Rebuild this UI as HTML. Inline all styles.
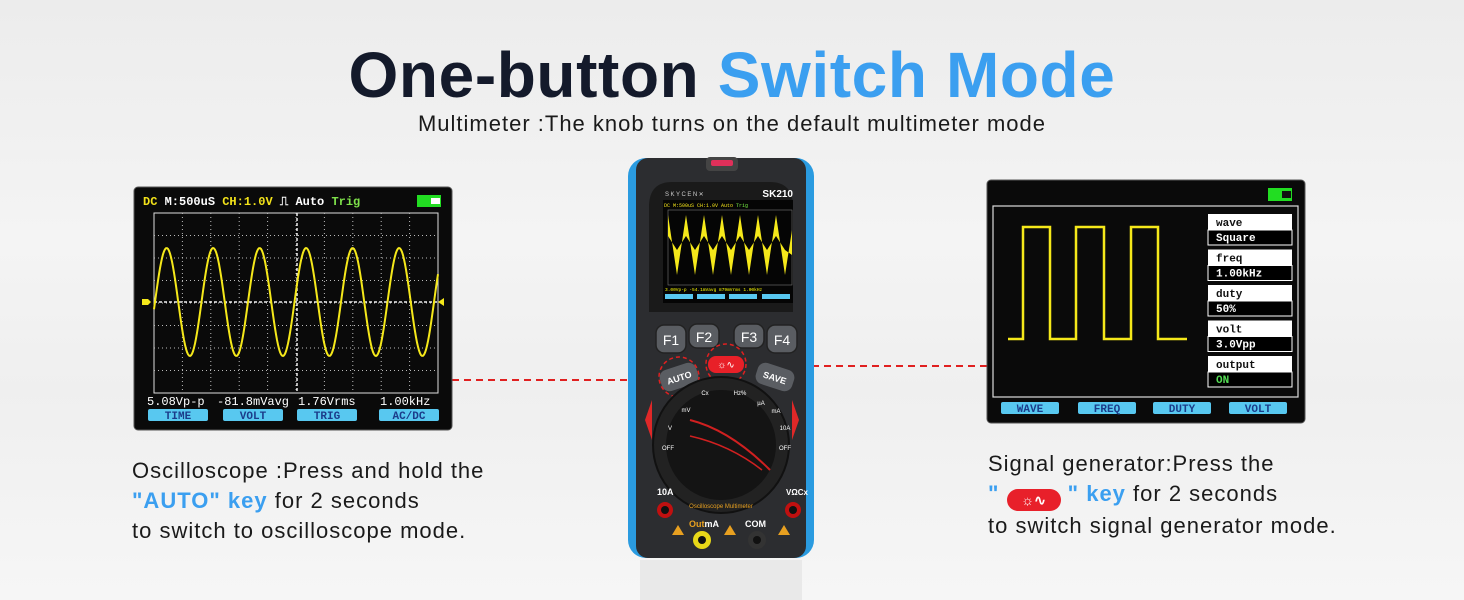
<!DOCTYPE html>
<html><head><meta charset="utf-8"><style>
body{margin:0;width:1464px;height:600px;overflow:hidden;background:linear-gradient(180deg,#ececec 0%,#f4f4f4 40%,#efefef 65%,#f6f6f6 100%);font-family:"Liberation Sans",sans-serif;position:relative}
.t{position:absolute;white-space:nowrap}
</style></head><body>
<div class="t" style="left:0;width:1464px;text-align:center;top:38px;font-size:64px;font-weight:bold;color:#141a2b;letter-spacing:0.6px">One-button <span style="color:#3b9ff0">Switch Mode</span></div>
<div class="t" style="left:0;width:1464px;text-align:center;top:111px;font-size:22px;color:#1a1a1a;letter-spacing:1px">Multimeter :The knob turns on the default multimeter mode</div>

<div class="t" style="left:132px;top:456px;font-size:22px;color:#1a1a1a;line-height:30px;letter-spacing:1px">Oscilloscope :Press and hold the<br><b style="color:#3b9ff0">"AUTO" key</b> for 2 seconds<br>to switch to oscilloscope mode.</div>
<div class="t" style="left:988px;top:449px;font-size:22px;color:#1a1a1a;line-height:30px;letter-spacing:1px">Signal generator:Press the<br><b style="color:#3b9ff0">" <span style="display:inline-block;width:54px;height:22px;background:#e8202a;border-radius:11px;vertical-align:-4px;color:#fff;font-size:14px;text-align:center;line-height:22px;letter-spacing:0">☼∿</span> " key</b> for 2 seconds<br>to switch signal generator mode.</div>

<svg width="1464" height="600" style="position:absolute;left:0;top:0" xmlns="http://www.w3.org/2000/svg">
<line x1="452" y1="380" x2="662" y2="380" stroke="#e02020" stroke-width="2" stroke-dasharray="7,5"/>
<line x1="752" y1="366" x2="987" y2="366" stroke="#e02020" stroke-width="2" stroke-dasharray="7,5"/>

<rect x="134" y="187" width="318" height="243" rx="4" fill="#0a0a0a" stroke="#555" stroke-width="1"/>
<g font-family="Liberation Mono,monospace" font-weight="bold" font-size="12">
<text x="143" y="205" fill="#f2e21a">DC <tspan fill="#fff">M:500uS</tspan> CH:1.0V <tspan fill="#fff">⎍  Auto</tspan> <tspan fill="#7ee04a">Trig</tspan></text>
</g>
<rect x="417" y="195" width="24" height="12" fill="#22dd22"/><rect x="431" y="198" width="9" height="6" fill="#fff"/>
<rect x="154" y="213" width="284" height="180" fill="none" stroke="#ddd" stroke-width="1"/>
<g id="lgrid" stroke="#bbb" stroke-width="1" stroke-dasharray="1,3"></g>
<line x1="297" y1="213" x2="297" y2="393" stroke="#eee" stroke-width="1.5" stroke-dasharray="3,2"/>
<line x1="154" y1="302" x2="438" y2="302" stroke="#eee" stroke-width="1.5" stroke-dasharray="3,2"/>
<path id="sine" fill="none" stroke="#f5e81a" stroke-width="2"/>
<path d="M142 299h6l3 3-3 3h-6z" fill="#f5e81a"/><path d="M438 302l6-4v8z" fill="#f5e81a"/>
<g font-family="Liberation Mono,monospace" font-size="12" fill="#fff">
<text x="147" y="405">5.08Vp-p</text><text x="217" y="405">-81.8mVavg</text><text x="298" y="405">1.76Vrms</text><text x="380" y="405">1.00kHz</text>
</g>
<g fill="#58c8f0"><rect x="148" y="409" width="60" height="12" rx="2"/><rect x="223" y="409" width="60" height="12" rx="2"/><rect x="297" y="409" width="60" height="12" rx="2"/><rect x="379" y="409" width="60" height="12" rx="2"/></g>
<g font-family="Liberation Mono,monospace" font-weight="bold" font-size="11" fill="#1b3c8a" text-anchor="middle">
<text x="178" y="419">TIME</text><text x="253" y="419">VOLT</text><text x="327" y="419">TRIG</text><text x="409" y="419">AC/DC</text></g>

<rect x="987" y="180" width="318" height="243" rx="4" fill="#0a0a0a" stroke="#555"/>
<rect x="1268" y="188" width="24" height="13" fill="#22dd22"/><rect x="1282" y="191" width="9" height="7" fill="#111"/>
<rect x="993" y="206" width="305" height="191" fill="none" stroke="#ddd" stroke-width="1.2"/>
<path d="M1008 339H1023V227H1050V339H1076V227H1104V339H1131V227H1158V339H1187" fill="none" stroke="#f5e81a" stroke-width="2.5"/>
<g font-family="Liberation Mono,monospace" font-weight="bold" font-size="11">
<g id="rp"></g>
</g>
<g fill="#58c8f0"><rect x="1001" y="402" width="58" height="12" rx="2"/><rect x="1078" y="402" width="58" height="12" rx="2"/><rect x="1153" y="402" width="58" height="12" rx="2"/><rect x="1229" y="402" width="58" height="12" rx="2"/></g>
<g font-family="Liberation Mono,monospace" font-weight="bold" font-size="11" fill="#1b3c8a" text-anchor="middle">
<text x="1030" y="412">WAVE</text><text x="1107" y="412">FREQ</text><text x="1182" y="412">DUTY</text><text x="1258" y="412">VOLT</text></g>

<rect x="628" y="158" width="186" height="400" rx="18" fill="#2a9be0"/>
<rect x="636" y="158" width="170" height="400" rx="12" fill="#2c2d30"/>
<rect x="706" y="157" width="32" height="14" rx="4" fill="#444"/><rect x="711" y="160" width="22" height="6" rx="2" fill="#e0305a"/>
<path d="M649 205 Q650 182 672 182 H770 Q792 182 793 205 V312 H649Z" fill="#1a1a1a"/>
<text x="665" y="196" font-size="6" fill="#ccc" letter-spacing="1.5">SKYCEN✕</text>
<text x="793" y="197" font-size="10" font-weight="bold" fill="#fff" text-anchor="end">SK210</text>
<rect x="663" y="200" width="130" height="103" fill="#050505"/>
<text x="664" y="207" font-size="5" font-family="Liberation Mono,monospace" fill="#f2e21a">DC M:500uS CH:1.0V   Auto <tspan fill="#7e4">Trig</tspan></text>
<rect x="668" y="210" width="124" height="75" fill="none" stroke="#777" stroke-width="0.6"/>
<path d="M668 215 L677 275 L686 215 L695 275 L704 215 L713 275 L722 215 L731 275 L740 215 L749 275 L758 215 L767 275 L776 215 L785 275 L792 230 L792 255 L785 250 L776 236 L767 250 L758 236 L749 250 L740 236 L731 250 L722 236 L713 250 L704 236 L695 250 L686 236 L677 250 L668 236Z" fill="#f5e81a"/>
<g fill="#58c8f0"><rect x="665" y="294" width="28" height="5"/><rect x="697" y="294" width="28" height="5"/><rect x="729" y="294" width="28" height="5"/><rect x="762" y="294" width="28" height="5"/></g>
<text x="665" y="291" font-size="4.5" fill="#ff0" font-family="Liberation Mono,monospace">3.00Vp-p  -54.1mVavg  879mVrms   1.00kHz</text>
<g fill="#5a5d62" stroke="#222" stroke-width="1.5">
<rect x="656" y="325" width="30" height="28" rx="8"/><rect x="689" y="324" width="30" height="24" rx="8"/><rect x="734" y="324" width="30" height="24" rx="8"/><rect x="767" y="325" width="30" height="28" rx="8"/></g>
<g font-size="14" fill="#fff" text-anchor="middle"><text x="671" y="345">F1</text><text x="704" y="342">F2</text><text x="749" y="342">F3</text><text x="782" y="345">F4</text></g>
<rect x="660" y="366" width="38" height="22" rx="8" fill="#5a5d62" transform="rotate(-18 679 377)"/>
<text x="679" y="381" font-size="9" font-weight="bold" fill="#fff" text-anchor="middle" transform="rotate(-18 679 377)">AUTO</text>
<rect x="756" y="366" width="38" height="22" rx="8" fill="#5a5d62" transform="rotate(18 775 377)"/>
<text x="775" y="381" font-size="9" font-weight="bold" fill="#fff" text-anchor="middle" transform="rotate(18 775 377)">SAVE</text>
<rect x="708" y="356" width="36" height="17" rx="8" fill="#e82028"/>
<text x="726" y="368" font-size="10" fill="#fff" text-anchor="middle">☼∿</text>
<circle cx="679" cy="377" r="20" fill="none" stroke="#e02020" stroke-width="1.5" stroke-dasharray="4,3"/>
<circle cx="726" cy="364" r="20" fill="none" stroke="#e02020" stroke-width="1.5" stroke-dasharray="4,3"/>
<path d="M652 400 L645 420 L652 440Z" fill="#e02828"/><path d="M792 400 L799 420 L792 440Z" fill="#e02828"/>
<circle cx="721" cy="445" r="68" fill="#222" stroke="#111" stroke-width="2"/>
<circle cx="721" cy="445" r="55" fill="#141414"/>
<path d="M690 420 Q730 430 770 470" stroke="#d02020" stroke-width="2" fill="none"/>
<path d="M690 436 Q730 445 762 470" stroke="#d02020" stroke-width="1.5" fill="none"/>
<g font-size="6" fill="#fff" text-anchor="middle"><text x="705" y="395">Cx</text><text x="740" y="395">Hz%</text><text x="686" y="412">mV</text><text x="761" y="405">µA</text><text x="670" y="430">V</text><text x="776" y="413">mA</text><text x="668" y="450">OFF</text><text x="785" y="430">10A</text><text x="785" y="450">OFF</text></g>
<text x="721" y="508" font-size="6" fill="#e8a020" text-anchor="middle">Oscilloscope Multimeter</text>
<text x="657" y="495" font-size="9" font-weight="bold" fill="#fff">10A</text>
<text x="786" y="495" font-size="8" font-weight="bold" fill="#fff">VΩCx</text>
<circle cx="665" cy="510" r="8" fill="#c01010"/><circle cx="665" cy="510" r="4" fill="#111"/>
<circle cx="793" cy="510" r="8" fill="#c01010"/><circle cx="793" cy="510" r="4" fill="#111"/>
<text x="689" y="527" font-size="9" font-weight="bold" fill="#e8a020">Out<tspan fill="#fff">mA</tspan></text>
<text x="745" y="527" font-size="9" font-weight="bold" fill="#fff">COM</text>
<circle cx="702" cy="540" r="9" fill="#e8d818"/><circle cx="702" cy="540" r="4" fill="#111"/>
<circle cx="757" cy="540" r="9" fill="#333"/><circle cx="757" cy="540" r="4" fill="#111"/>
<path d="M672 535l6-10 6 10z M724 535l6-10 6 10z M778 535l6-10 6 10z" fill="#e8a020"/>
<rect x="640" y="560" width="162" height="40" fill="#e4e4e4" opacity="0.7"/>
</svg>
<script>
var g=document.getElementById('lgrid'),s='';
for(var i=1;i<10;i++){var x=154+i*28.4;s+='<line x1="'+x+'" y1="213" x2="'+x+'" y2="393"/>';}
for(var j=1;j<8;j++){var y=213+j*22.5;s+='<line x1="154" y1="'+y+'" x2="438" y2="'+y+'"/>';}
g.innerHTML=s;
var d='';for(var x=154;x<=438;x+=1){var y=302-54*Math.sin((x-155)/46.5*2*Math.PI);d+=(x==154?'M':'L')+x+' '+y.toFixed(1);}
document.getElementById('sine').setAttribute('d',d);
var p=[['wave','Square'],['freq','1.00kHz'],['duty','50%'],['volt','3.0Vpp'],['output','ON']],h='';
for(var k=0;k<5;k++){var y=214+k*35.5;h+='<rect x="1208" y="'+y+'" width="84" height="16" fill="#fff"/><rect x="1208" y="'+(y+16)+'" width="84" height="15" fill="#000" stroke="#fff" stroke-width="1"/><text x="1216" y="'+(y+12)+'" fill="#111">'+p[k][0]+'</text><text x="1216" y="'+(y+27)+'" fill="'+(k==4?'#5d5':'#fff')+'">'+p[k][1]+'</text>';}
document.getElementById('rp').innerHTML=h;
</script>
</body></html>
